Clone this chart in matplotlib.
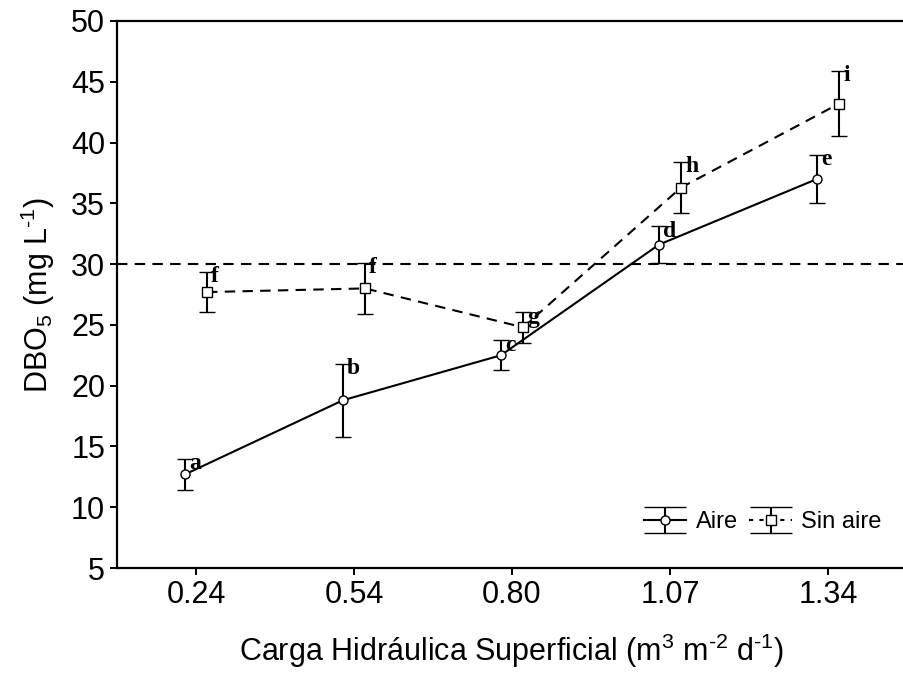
import matplotlib
matplotlib.use("Agg")
from matplotlib import pyplot as plt
from matplotlib.legend_handler import HandlerErrorbar
import numpy as np

# data
cargas = ["0.24", "0.54", "0.80", "1.07", "1.34"]
aire = [12.7, 18.8, 22.5, 31.6, 37.0]
aire_err = [1.3, 3.0, 1.25, 1.5, 2.0]
aire_letras = ["a", "b", "c", "d", "e"]
sin_aire = [27.7, 28.0, 24.8, 36.3, 43.2]
sin_aire_err = [1.65, 2.1, 1.25, 2.1, 2.7]
sin_aire_letras = ["f", "f", "g", "h", "i"]
limite = 30

plt.rcParams["font.family"] = ["Liberation Sans", "DejaVu Sans"]
plt.rcParams["mathtext.fontset"] = "custom"
plt.rcParams["mathtext.rm"] = "Liberation Sans"
plt.rcParams["mathtext.it"] = "Liberation Sans"

fig = plt.figure(figsize=(9.04, 6.77), dpi=100)
ax = fig.add_axes([117 / 904, 109 / 677, 790 / 904, 547 / 677])

x = np.arange(len(cargas))
dx = 0.07

ax.axhline(limite, color="black", lw=1.5, ls=(0, (5, 3.5)), zorder=1)

eb_kw = dict(color="black", lw=1.5, elinewidth=1.5, capsize=5.8, capthick=1.5,
             markersize=6.5, markerfacecolor="white", markeredgecolor="black",
             markeredgewidth=1.0)
ax.errorbar(x - dx, aire, yerr=aire_err, marker="o", ls="-", zorder=3, **eb_kw)
ax.errorbar(x + dx, sin_aire, yerr=sin_aire_err, marker="s", ls=(0, (5, 3.5)),
            zorder=3, **eb_kw)

for xi, v, e, t in zip(x - dx, aire, aire_err, aire_letras):
    ax.annotate(t, (xi, v + e), xytext=(3, 4), textcoords="offset points",
                ha="left", va="top", fontsize=17, fontweight="bold",
                family="Liberation Serif", zorder=4)
for xi, v, e, t in zip(x + dx, sin_aire, sin_aire_err, sin_aire_letras):
    ax.annotate(t, (xi, v + e), xytext=(3, 4), textcoords="offset points",
                ha="left", va="top", fontsize=17, fontweight="bold",
                family="Liberation Serif", zorder=4)

# legend proxies with wide caps
h1 = ax.errorbar([np.nan], [np.nan], yerr=[1], marker="o", ls="-",
                 color="black", lw=1.5, capsize=15, capthick=1.5,
                 markersize=6.5, markerfacecolor="white",
                 markeredgecolor="black", markeredgewidth=1.0)
h2 = ax.errorbar([np.nan], [np.nan], yerr=[1], marker="s", ls=(0, (2, 3)),
                 color="black", lw=1.5, capsize=15, capthick=1.5,
                 markersize=6.5, markerfacecolor="white",
                 markeredgecolor="black", markeredgewidth=1.0)
ax.legend([h1, h2], ["Aire", "Sin aire"], loc="lower right",
          bbox_to_anchor=(0.995, 0.025), frameon=False, fontsize=17,
          ncol=2, handlelength=1.8, handletextpad=0.4, columnspacing=0.5,
          handler_map={type(h1): HandlerErrorbar(yerr_size=0.55)})

ax.set_xlim(-0.5, 4.5)
ax.set_ylim(5, 50)
ax.set_xticks(x)
ax.set_xticklabels(cargas)
ax.set_yticks(np.arange(5, 51, 5))
ax.tick_params(labelsize=22, width=1.4, length=5, direction="out")
ax.spines["right"].set_visible(False)
for s in ["left", "bottom", "top"]:
    ax.spines[s].set_linewidth(1.6)

ax.set_ylabel(r"DBO$_5$ (mg L$^{\text{-}1}$)", fontsize=22, labelpad=10)
ax.set_xlabel(r"Carga Hidráulica Superficial (m$^3$ m$^{\text{-}2}$ d$^{\text{-}1}$)",
              fontsize=22, labelpad=16)

fig.savefig("out.png", dpi=100)
